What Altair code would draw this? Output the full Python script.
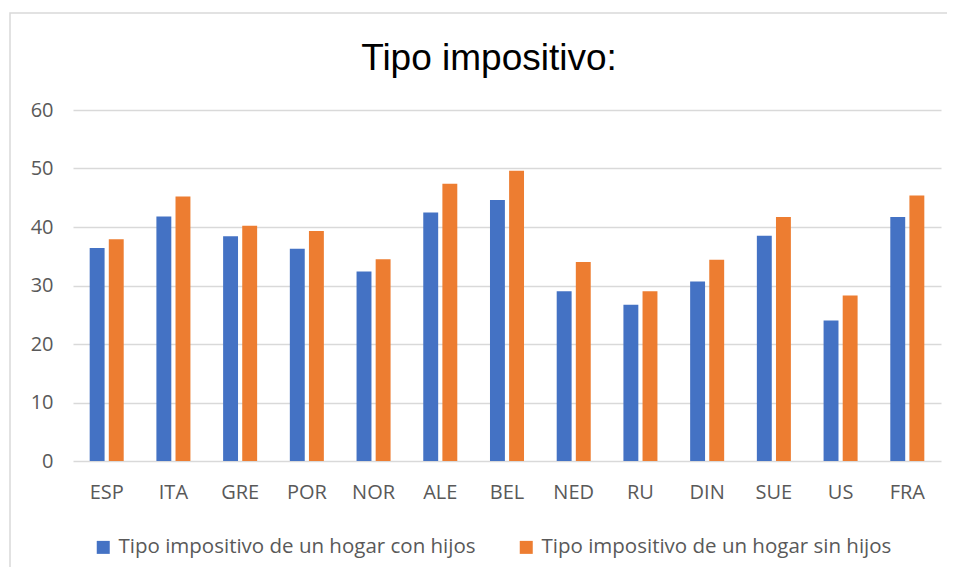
import altair as alt
import pandas as pd

categories = ["ESP", "ITA", "GRE", "POR", "NOR", "ALE", "BEL", "NED", "RU", "DIN", "SUE", "US", "FRA"]
con_hijos = [36.4, 41.8, 38.4, 36.3, 32.4, 42.5, 44.6, 29.0, 26.7, 30.7, 38.5, 24.0, 41.7]
sin_hijos = [37.9, 45.2, 40.2, 39.3, 34.5, 47.4, 49.6, 34.0, 29.0, 34.4, 41.7, 28.3, 45.4]
series_names = ["Tipo impositivo de un hogar con hijos", "Tipo impositivo de un hogar sin hijos"]
colors = ["#4472C4", "#ED7D31"]
title_text = "Tipo impositivo:"

rows = []
for c, a, b in zip(categories, con_hijos, sin_hijos):
    rows.append({"pais": c, "serie": series_names[0], "valor": a})
    rows.append({"pais": c, "serie": series_names[1], "valor": b})
df = pd.DataFrame(rows)

W, H = 868, 351
label_font = "Open Sans"
gray = "#595959"

bars = alt.Chart(df).mark_bar().encode(
    x=alt.X("pais:N", sort=categories, title=None,
            scale=alt.Scale(paddingInner=0.49, paddingOuter=0.25),
            axis=alt.Axis(labelAngle=0, labelFont=label_font, labelFontSize=20,
                          labelColor=gray, labelPadding=21, ticks=False,
                          domain=False, grid=False)),
    xOffset=alt.XOffset("serie:N", sort=series_names,
                        scale=alt.Scale(paddingInner=0.22)),
    y=alt.Y("valor:Q", title=None,
            scale=alt.Scale(domain=[0, 60]),
            axis=alt.Axis(values=[0, 10, 20, 30, 40, 50, 60], labelFont=label_font,
                          labelFontSize=20, labelColor=gray, labelPadding=20,
                          ticks=False, domain=False, gridColor="#d9d9d9",
                          gridWidth=1.5)),
    color=alt.Color("serie:N", sort=series_names,
                    scale=alt.Scale(domain=series_names, range=colors),
                    legend=alt.Legend(title=None, orient="none", direction="horizontal",
                                      legendX=20, legendY=427,
                                      symbolType="square", symbolSize=169,
                                      symbolStrokeWidth=0,
                                      labelFont=label_font, labelFontSize=20.5,
                                      labelColor=gray, labelOffset=5,
                                      columnPadding=40, labelLimit=500)),
)

frame = alt.Chart(pd.DataFrame({"k": [0]})).mark_rect(
    fill=None, stroke="#d9d9d9", strokeWidth=1.5, clip=False
).encode(
    x=alt.value(-63), x2=alt.value(W + 200),
    y=alt.value(-97), y2=alt.value(H + 300),
)

title = alt.Chart(pd.DataFrame({"t": [title_text]})).mark_text(
    font="Liberation Sans", fontSize=37, color="#000000",
    align="center", baseline="alphabetic"
).encode(
    text="t:N", x=alt.value(490 - 73 - 1), y=alt.value(70 - 110),
)

chart = alt.layer(frame, bars, title).properties(
    width=W, height=H,
    autosize=alt.AutoSizeParams(type="none"),
    padding={"left": 65, "top": 102, "right": 6, "bottom": 106},
).configure_view(stroke=None)

chart.save("out.html", embed_options={"renderer": "svg", "actions": False})
